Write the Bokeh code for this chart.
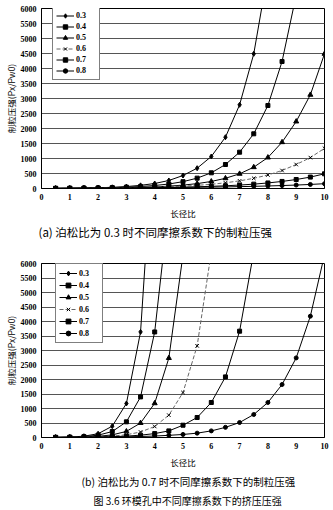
from bokeh.plotting import figure
from bokeh.layouts import column
from bokeh.models import Title, Legend, LegendItem, FixedTicker, Range1d
from bokeh.embed import file_html
from bokeh.resources import INLINE

# ---------------- data ----------------
ratio = [0.5, 1, 1.5, 2, 2.5, 3, 3.5, 4, 4.5, 5, 5.5, 6, 6.5, 7, 7.5, 8, 8.5, 9, 9.5, 10]
friction = ["0.3", "0.4", "0.5", "0.6", "0.7", "0.8"]

# (a) Poisson ratio 0.3
a_03 = [5, 9, 15, 25, 40, 65, 105, 167, 267, 433, 677, 1067, 1710, 2790, 4490, 7200]
a_04 = [5, 8, 13, 19, 29, 44, 66, 100, 150, 228, 345, 523, 800, 1210, 1823, 2767, 4233, 6450]
a_05 = [4, 6, 9, 13, 19, 27, 38, 54, 78, 113, 163, 235, 340, 490, 710, 1033, 1543, 2233, 3123, 4490]
a_06 = [4, 7, 10, 14, 19, 26, 34, 45, 60, 80, 105, 140, 190, 255, 340, 450, 600, 800, 1030, 1340]
a_07 = [4, 6, 8, 11, 14, 18, 23, 29, 36, 45, 57, 72, 90, 115, 145, 185, 235, 300, 380, 490]
a_08 = [4, 6, 9, 12, 15, 18, 22, 26, 30, 35, 40, 46, 53, 62, 72, 84, 98, 115, 135, 160]

# (b) Poisson ratio 0.7
b_03 = [5, 15, 45, 130, 390, 1172, 3641, 11000]
b_04 = [4, 10, 30, 80, 205, 540, 1400, 3640, 8000]
b_05 = [3, 8, 18, 40, 90, 210, 500, 1180, 2740, 6300]
b_06 = [3, 6, 12, 24, 48, 95, 190, 380, 770, 1550, 3160, 6400]
b_07 = [3, 5, 10, 17, 28, 48, 80, 135, 228, 424, 690, 1207, 2090, 3666, 6400]
b_08 = [3, 5, 8, 12, 17, 25, 35, 50, 75, 105, 150, 228, 350, 517, 793, 1207, 1827, 2745, 4183, 6300]

x_ticks = [0, 1, 2, 3, 4, 5, 6, 7, 8, 9, 10]
y_ticks = [0, 500, 1000, 1500, 2000, 2500, 3000, 3500, 4000, 4500, 5000, 5500, 6000]

x_label = "长径比"
y_label = "制粒压强(Px/Pw0)"
caption_a = "(a) 泊松比为 0.3 时不同摩擦系数下的制粒压强"
caption_b = "(b) 泊松比为 0.7 时不同摩擦系数下的制粒压强"
caption_fig = "图 3.6 环模孔中不同摩擦系数下的挤压压强"

NUM_FONT = "'Liberation Serif', 'Noto Sans CJK SC'"
CJK_FONT = "'Noto Sans CJK SC', 'Liberation Serif'"

markers = ["diamond", "square", "triangle", "x", "square", "circle"]
msizes = [5, 4, 5, 5, 4, 4]
lcolors = ["black", "black", "black", "#666666", "black", "black"]
ldash = ["solid", "solid", "solid", "4 2", "solid", "solid"]


def make_fig(series, left, right, top, height, bottom, legend_loc, lab_item_h):
    p = figure(width=333, height=height,
               min_border_left=left, min_border_right=right,
               min_border_top=top, min_border_bottom=bottom,
               output_backend="svg", toolbar_location=None,
               x_range=Range1d(0, 10), y_range=Range1d(0, 6000))
    p.background_fill_color = "white"
    p.border_fill_color = "white"
    p.outline_line_color = "black"
    p.outline_line_width = 1

    p.xgrid.grid_line_color = None
    p.ygrid.grid_line_color = "#555555"
    p.ygrid.grid_line_width = 1
    p.ygrid.ticker = FixedTicker(ticks=y_ticks)

    p.xaxis.ticker = FixedTicker(ticks=x_ticks)
    p.yaxis.ticker = FixedTicker(ticks=y_ticks)
    for ax in (p.xaxis[0], p.yaxis[0]):
        ax.axis_line_color = "black"
        ax.major_tick_line_color = None
        ax.minor_tick_line_color = None
        ax.major_tick_out = 0
        ax.major_tick_in = 0
        ax.major_label_text_font = NUM_FONT
        ax.major_label_text_font_style = "bold"
        ax.major_label_text_font_size = "8px"
        ax.major_label_text_color = "black"
        ax.axis_label_text_font = CJK_FONT
        ax.axis_label_text_font_style = "normal"
        ax.axis_label_text_font_size = "8.5px"
        ax.axis_label_text_color = "black"
    p.xaxis.major_label_standoff = 5
    p.yaxis.major_label_standoff = 5
    p.xaxis.axis_label = x_label
    p.yaxis.axis_label = y_label
    p.xaxis.axis_label_standoff = 4
    p.yaxis.axis_label_standoff = 1

    items = []
    for i, ys in enumerate(series):
        xs = ratio[:len(ys)]
        r1 = p.line(xs, ys, line_color=lcolors[i], line_width=1, line_dash=ldash[i])
        r2 = p.scatter(xs, ys, marker=markers[i], size=msizes[i],
                       line_color="black", fill_color="black", line_width=1)
        items.append(LegendItem(label=friction[i], renderers=[r1, r2]))

    leg = Legend(items=items, location=legend_loc)
    leg.label_text_font = NUM_FONT
    leg.label_text_font_style = "bold"
    leg.label_text_font_size = "8px"
    leg.label_text_color = "black"
    leg.label_height = lab_item_h
    leg.glyph_height = lab_item_h
    leg.glyph_width = 18
    leg.label_standoff = 2
    leg.spacing = 0
    leg.padding = 3
    leg.margin = 0
    leg.border_line_color = "black"
    leg.border_line_width = 1
    leg.background_fill_color = "white"
    leg.background_fill_alpha = 1
    p.add_layout(leg, "center")
    return p


p1 = make_fig([a_03, a_04, a_05, a_06, a_07, a_08],
              41, 5, 8, 250, 62, (11, 108), 11)
t1 = Title(text=caption_a, align="left", offset=-3,
           text_font=CJK_FONT, text_font_style="normal",
           text_font_size="11.5px", text_color="black", standoff=1)
p1.add_layout(t1, "below")

p2 = make_fig([b_03, b_04, b_05, b_06, b_07, b_08],
              38, 9, 13, 260, 73, (14, 94), 12)
t2 = Title(text=caption_b, align="left", offset=40,
           text_font=CJK_FONT, text_font_style="normal",
           text_font_size="10.5px", text_color="black", standoff=3)
t3 = Title(text=caption_fig, align="left", offset=52,
           text_font=CJK_FONT, text_font_style="normal",
           text_font_size="10px", text_color="black", standoff=0)
p2.add_layout(t2, "below")
p2.add_layout(t3, "below")

layout = column(p1, p2, spacing=0)
open("out.html", "w").write(file_html(layout, INLINE))
